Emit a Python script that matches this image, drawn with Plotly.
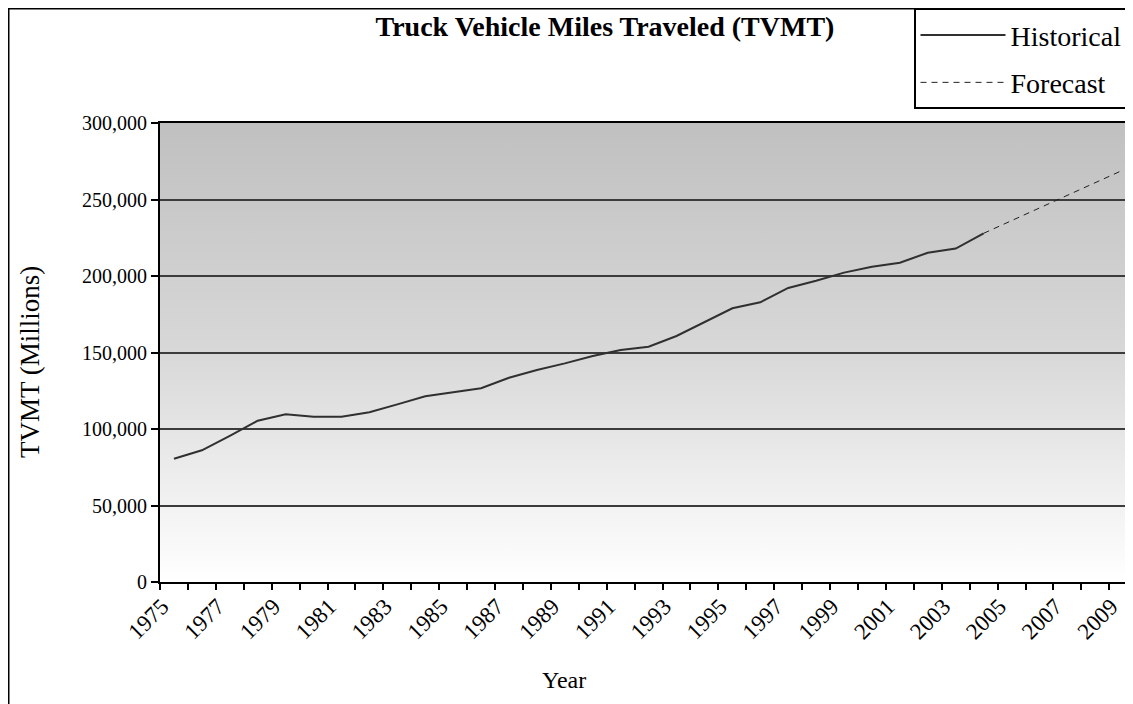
import base64
import plotly.graph_objects as go

# ---- data ----
hist_years = list(range(1975, 2005))
hist_values = [80600, 86100, 95500, 105400, 109600, 108000, 108000, 110900, 116100, 121400,
               124000, 126600, 133500, 138600, 142900, 147700, 151600, 153800, 160800, 170100,
               178900, 182800, 192200, 196900, 202200, 206100, 208700, 215200, 217900, 227900]
fc_years = list(range(2004, 2010))
fc_values = [227900, 236200, 244500, 252800, 261000, 269300]

y_ticks = [0, 50000, 100000, 150000, 200000, 250000, 300000]
x_tick_years = list(range(1975, 2010, 2))

FONT = "Liberation Serif, Times New Roman, serif"

fig = go.Figure()
fig.add_trace(go.Scatter(x=hist_years, y=hist_values, mode="lines", name="Historical",
                         line=dict(color="#303030", width=2), legendgroup="h",
                         hoverinfo="skip"))
fig.add_trace(go.Scatter(x=fc_years, y=fc_values, mode="lines", name="Forecast",
                         line=dict(color="#202020", width=1, dash="6px,5px"), legendgroup="f",
                         hoverinfo="skip"))

# vertical gradient background for plot area
svg = ('<svg xmlns="http://www.w3.org/2000/svg" width="10" height="100" preserveAspectRatio="none">'
       '<defs><linearGradient id="g" x1="0" y1="0" x2="0" y2="1">'
       '<stop offset="0" stop-color="#c0c0c0"/><stop offset="0.5" stop-color="#d8d8d8"/>'
       '<stop offset="1" stop-color="#ffffff"/></linearGradient></defs>'
       '<rect width="10" height="100" fill="url(#g)"/></svg>')
src = "data:image/svg+xml;base64," + base64.b64encode(svg.encode()).decode()

OFF = 8  # page body margin
W, H = 1133 - OFF, 704 - OFF
L, R, T = 160 - OFF, 0, 123 - OFF
B = H - (582 - OFF)
pw, ph = W - L - R, H - T - B

def px_to_paper_x(px):  # px in reference (page) pixels
    return (px - OFF - L) / pw

def px_to_paper_y(py):
    return (H - B - (py - OFF)) / ph

fig.update_layout(
    width=W, height=H, autosize=False,
    margin=dict(l=L, r=R, t=T, b=B, autoexpand=False),
    paper_bgcolor="white", plot_bgcolor="white",
    font=dict(family=FONT, color="black", size=20),
    title=dict(text="Truck Vehicle Miles Traveled (TVMT)", xref="container", yref="container",
               x=(605 - OFF) / W, y=1 - (26 - OFF) / H, xanchor="center", yanchor="middle",
               font=dict(family=FONT, size=28, weight=700, color="black")),
    showlegend=True,
    legend=dict(xref="container", yref="container", x=(914 - OFF) / W, y=1 - 0.75 / H,
                xanchor="left", yanchor="top", bgcolor="white", bordercolor="black",
                borderwidth=1.5, font=dict(family=FONT, size=28), itemwidth=85,
                traceorder="grouped", tracegroupgap=8),
    images=[dict(source=src, xref="x domain", yref="y domain", x=0, y=1, sizex=1, sizey=1,
                 xanchor="left", yanchor="top", sizing="stretch", layer="below")],
    shapes=[dict(type="rect", xref="paper", yref="paper",
                 x0=px_to_paper_x(OFF + 0.75), x1=px_to_paper_x(1160),
                 y0=px_to_paper_y(730), y1=px_to_paper_y(OFF + 0.75),
                 line=dict(color="black", width=1.5), fillcolor="rgba(0,0,0,0)", layer="below")],
    annotations=[
        dict(text="Year", xref="paper", yref="paper", x=px_to_paper_x(564),
             y=px_to_paper_y(680), xanchor="center", yanchor="middle",
             showarrow=False, font=dict(family=FONT, size=24)),
        dict(text="TVMT (Millions)", xref="paper", yref="paper", x=px_to_paper_x(30),
             y=px_to_paper_y(362), xanchor="center", yanchor="middle", textangle=-90,
             showarrow=False, font=dict(family=FONT, size=27)),
    ],
)

fig.update_xaxes(
    type="linear", range=[1974.5, 1974.5 + pw / 27.92],
    tickmode="array", tickvals=x_tick_years, ticktext=[str(y) for y in x_tick_years],
    ticks="", tickangle=-45, tickfont=dict(size=23), ticklabelshift=-12,
    showgrid=False, zeroline=False,
    showline=True, linecolor="black", linewidth=2, mirror=True,
    minor=dict(tickmode="linear", tick0=1974.5, dtick=1, ticks="outside", ticklen=6,
               tickwidth=1.5, tickcolor="black", showgrid=False),
    automargin=False,
)
fig.update_yaxes(
    range=[0, 300000], tickmode="array", tickvals=y_ticks,
    tickformat=",", tickfont=dict(size=20),
    ticks="outside", ticklen=7, tickwidth=1.5, tickcolor="black",
    showgrid=True, gridcolor="#3c3c3c", gridwidth=1.5, zeroline=False,
    showline=True, linecolor="black", linewidth=2,
    automargin=False,
)

fig.write_html("out.html")
